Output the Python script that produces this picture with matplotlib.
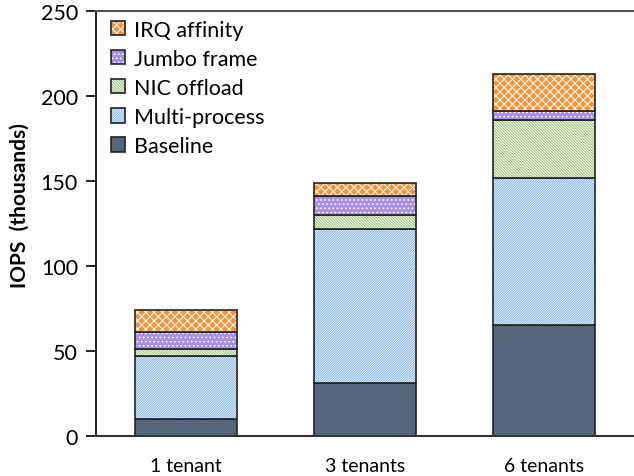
import numpy as np
import matplotlib
matplotlib.use('Agg')
import matplotlib.pyplot as plt

# 데이터 (천 단위 IOPS, 각 단계별 증가분)
tenants = ['1 tenant', '3 tenants', '6 tenants']
baseline = [10, 31, 65]
multi_process = [37, 91, 87]
nic_offload = [4, 8, 34]
jumbo_frame = [10, 11, 5]
irq_affinity = [13, 8, 22]

layers = [
    ('Baseline', baseline, '#556779', '#556779', ''),
    ('Multi-process', multi_process, 'white', '#7db3e6', '/' * 14),
    ('NIC offload', nic_offload, 'white', '#8fc06a', '\\' * 12),
    ('Jumbo frame', jumbo_frame, '#a98ee8', 'white', '....'),
    ('IRQ affinity', irq_affinity, '#f0963f', 'white', 'xxxx'),
]

plt.rcParams['font.family'] = ['Lato', 'DejaVu Sans']
plt.rcParams['hatch.linewidth'] = 0.7

fig = plt.figure(figsize=(6.34, 4.77), dpi=100)
ax = fig.add_axes([0.1514, 0.0839, 0.8486, 0.8909])

x = np.arange(len(tenants))
width = 0.57
bottom = np.zeros(len(tenants))
handles = []
for name, vals, face, hcol, hatch in layers:
    vals = np.array(vals, dtype=float)
    b1 = ax.bar(x, vals, width, bottom=bottom, color=face, edgecolor=hcol,
                hatch=hatch, linewidth=0)
    b2 = ax.bar(x, vals, width, bottom=bottom, facecolor='none',
                edgecolor='#222222', linewidth=1.2)
    handles.append((b1[0], b2[0], name))
    bottom += vals

ax.set_xlim(-0.5, 2.5)
ax.set_ylim(0, 250)
ax.set_yticks([0, 50, 100, 150, 200, 250])
ax.set_xticks(x)
ax.set_xticklabels(tenants, fontsize=14)
ax.tick_params(axis='y', labelsize=15.5, length=7, width=1.2, direction='out', pad=6)
ax.tick_params(axis='x', length=0, pad=15)
ax.set_ylabel('IOPS  (thousands)', fontsize=15, fontweight='bold')
ax.yaxis.set_label_coords(-0.123, 0.544)

ax.spines['right'].set_visible(False)
ax.spines['top'].set_color('#555555')
ax.spines['top'].set_linewidth(1.5)
ax.spines['bottom'].set_color('#333333')
ax.spines['bottom'].set_linewidth(1.5)
ax.spines['left'].set_linewidth(1.2)

hs = [(h[0], h[1]) for h in handles][::-1]
labels = [h[2] for h in handles][::-1]
ax.legend(hs, labels, loc='upper left', bbox_to_anchor=(-0.008, 1.025), frameon=False,
          fontsize=15.5, handlelength=0.65, handleheight=0.65, handletextpad=0.4,
          labelspacing=0.42)

fig.savefig('out.png', dpi=100)
